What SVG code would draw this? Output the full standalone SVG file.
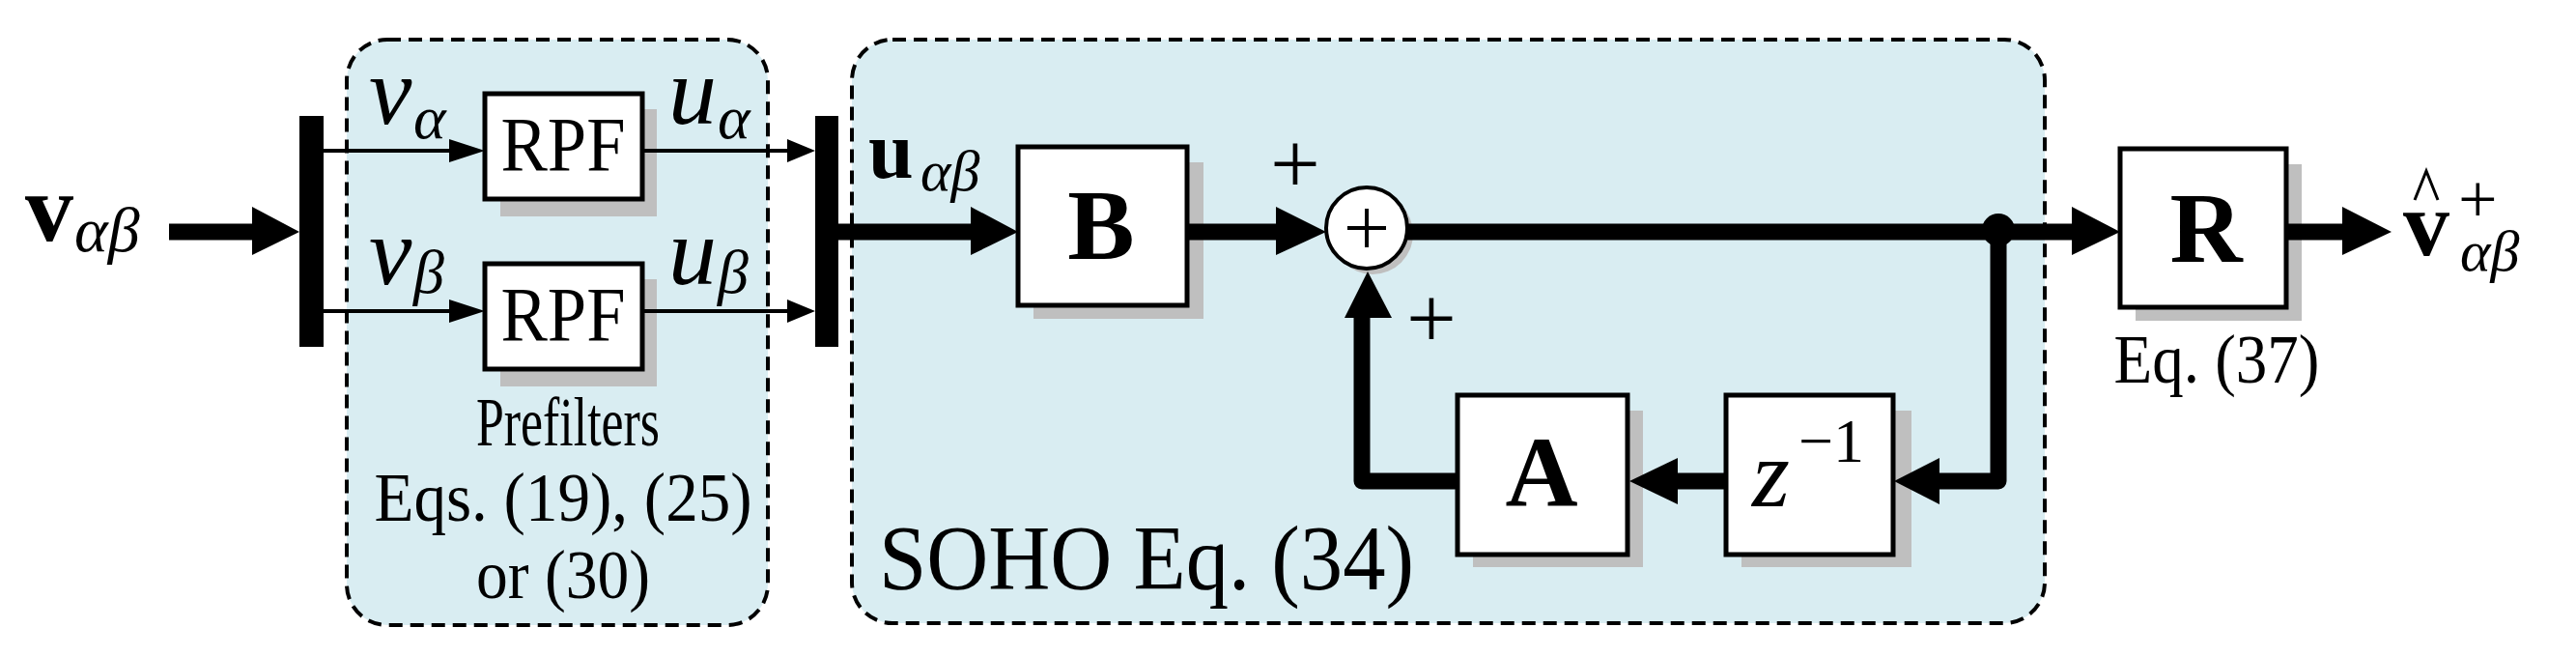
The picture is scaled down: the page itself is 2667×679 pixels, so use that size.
<svg xmlns="http://www.w3.org/2000/svg" width="2667" height="679" viewBox="0 0 2667 679">
<style>
.grp{fill:#d9edf2;stroke:#000;stroke-width:4;stroke-dasharray:14 8}
.box{fill:#fff;stroke:#000;stroke-width:5}
.sh{fill:#bfbfbf}
.t{font-family:"Liberation Serif","Times New Roman","DejaVu Serif",serif;fill:#000}
.it{font-style:italic}
.b{font-weight:bold}
.thin{stroke:#000;stroke-width:4;fill:none}
.thick{stroke:#000;stroke-width:17;fill:none}
</style>
<rect width="2667" height="679" fill="#fff"/>
<g id="prefilters">
<rect class="grp" x="359" y="41" width="436" height="606" rx="42"/>
<text class="t" x="588" y="461" font-size="72" text-anchor="middle" textLength="190" lengthAdjust="spacingAndGlyphs">Prefilters</text>
<text class="t" x="583" y="539" font-size="72" text-anchor="middle" textLength="391" lengthAdjust="spacingAndGlyphs">Eqs. (19), (25)</text>
<text class="t" x="583" y="619" font-size="72" text-anchor="middle" textLength="180" lengthAdjust="spacingAndGlyphs">or (30)</text>
</g>
<g id="soho">
<rect class="grp" x="882" y="41" width="1235" height="604" rx="42"/>
<text class="t" x="910" y="610" font-size="96" textLength="554" lengthAdjust="spacingAndGlyphs">SOHO Eq. (34)</text>
</g>
<g id="input-label"><text class="t b" x="26" y="249" font-size="100">v</text><text class="t it" x="77" y="260" font-size="66">αβ</text></g>
<g id="bar1"><rect x="310" y="120" width="25" height="239" fill="#000"/></g>
<g id="bar2"><rect x="844" y="120" width="24" height="239" fill="#000"/></g>
<g id="rpf1"><rect class="sh" x="518" y="113" width="162" height="111"/><rect class="box" x="502" y="97" width="163" height="109"/><text class="t" x="583" y="177" font-size="80" text-anchor="middle" textLength="129" lengthAdjust="spacingAndGlyphs">RPF</text></g>
<g id="rpf2"><rect class="sh" x="518" y="289" width="162" height="111"/><rect class="box" x="502" y="273" width="163" height="109"/><text class="t" x="583" y="353" font-size="80" text-anchor="middle" textLength="129" lengthAdjust="spacingAndGlyphs">RPF</text></g>
<g id="labels">
<text class="t it" x="382" y="128" font-size="100">v</text><text class="t it" x="428" y="143" font-size="64">α</text>
<text class="t it" x="692" y="128" font-size="100">u</text><text class="t it" x="743" y="143" font-size="64">α</text>
<text class="t it" x="382" y="294" font-size="100">v</text><text class="t it" x="428" y="303" font-size="64">β</text>
<text class="t it" x="692" y="294" font-size="100">u</text><text class="t it" x="743" y="303" font-size="64">β</text>
<text class="t b" x="899" y="184" font-size="84">u</text><text class="t it" x="953" y="197" font-size="60">αβ</text>
<text class="t" x="1341" y="200" font-size="92" text-anchor="middle">+</text>
<text class="t" x="1482" y="360" font-size="92" text-anchor="middle">+</text>
<text class="t" x="2295" y="396" font-size="72" text-anchor="middle" textLength="213" lengthAdjust="spacingAndGlyphs">Eq. (37)</text>
</g>
<g id="B"><rect class="sh" x="1070" y="168" width="176" height="162"/><rect class="box" x="1054" y="152" width="175" height="164"/><text class="t b" x="1140" y="268" font-size="104" text-anchor="middle">B</text></g>
<g id="sum"><circle cx="1421" cy="242" r="42" class="sh"/><circle cx="1415" cy="236" r="42" fill="#fff" stroke="#000" stroke-width="4"/><path d="M1415 216v40M1395 236h40" stroke="#000" stroke-width="4"/></g>
<g id="A"><rect class="sh" x="1525" y="425" width="176" height="162"/><rect class="box" x="1509" y="409" width="176" height="165"/><text class="t b" x="1596" y="524" font-size="104" text-anchor="middle">A</text></g>
<g id="zinv"><rect class="sh" x="1803" y="425" width="176" height="162"/><rect class="box" x="1787" y="409" width="173" height="165"/><text class="t it" x="1814" y="524" font-size="100">z</text><text class="t" x="1862" y="478" font-size="64">−1</text></g>
<g id="R"><rect class="sh" x="2211" y="170" width="172" height="162"/><rect class="box" x="2195" y="154" width="172" height="164"/><text class="t b" x="2284" y="271" font-size="104" text-anchor="middle">R</text></g>
<g id="output-label"><text class="t b" x="2488" y="264" font-size="96">v</text><path d="M2500 207l12-30 12 30" stroke="#000" stroke-width="3" fill="none"/><text class="t" x="2545" y="230" font-size="72">+</text><text class="t it" x="2547" y="280" font-size="60">αβ</text></g>
<g id="connectors">
<path class="thick" d="M175 240H265"/><path d="M261 214L310 240L261 264Z"/>
<path class="thin" d="M335 156H470M335 322H470"/>
<path d="M465 144L502 156L465 168ZM465 310L502 322L465 334Z"/>
<path class="thin" d="M665 156H820M665 322H820"/>
<path d="M815 144L844 156L815 168ZM815 310L844 322L815 334Z"/>
<path class="thick" d="M868 240H1010"/><path d="M1005 214L1054 240L1005 264Z"/>
<path class="thick" d="M1229 240H1325"/><path d="M1321 214L1373 240L1321 264Z"/>
<path class="thick" d="M1457 240H2150"/><path d="M2145 214L2195 240L2145 264Z"/>
<circle cx="2069" cy="238" r="17"/>
<path class="thick" d="M2069 240V498H2004" stroke-linejoin="round"/><path d="M2008 474L1961 498L2008 522Z"/>
<path class="thick" d="M1787 498H1733"/><path d="M1737 474L1687 498L1737 522Z"/>
<path class="thick" d="M1509 498H1410V325" stroke-linejoin="round"/><path d="M1392 329L1416 281L1441 329Z"/>
<path class="thick" d="M2367 240H2430"/><path d="M2425 214L2476 240L2425 264Z"/>
</g>
</svg>
